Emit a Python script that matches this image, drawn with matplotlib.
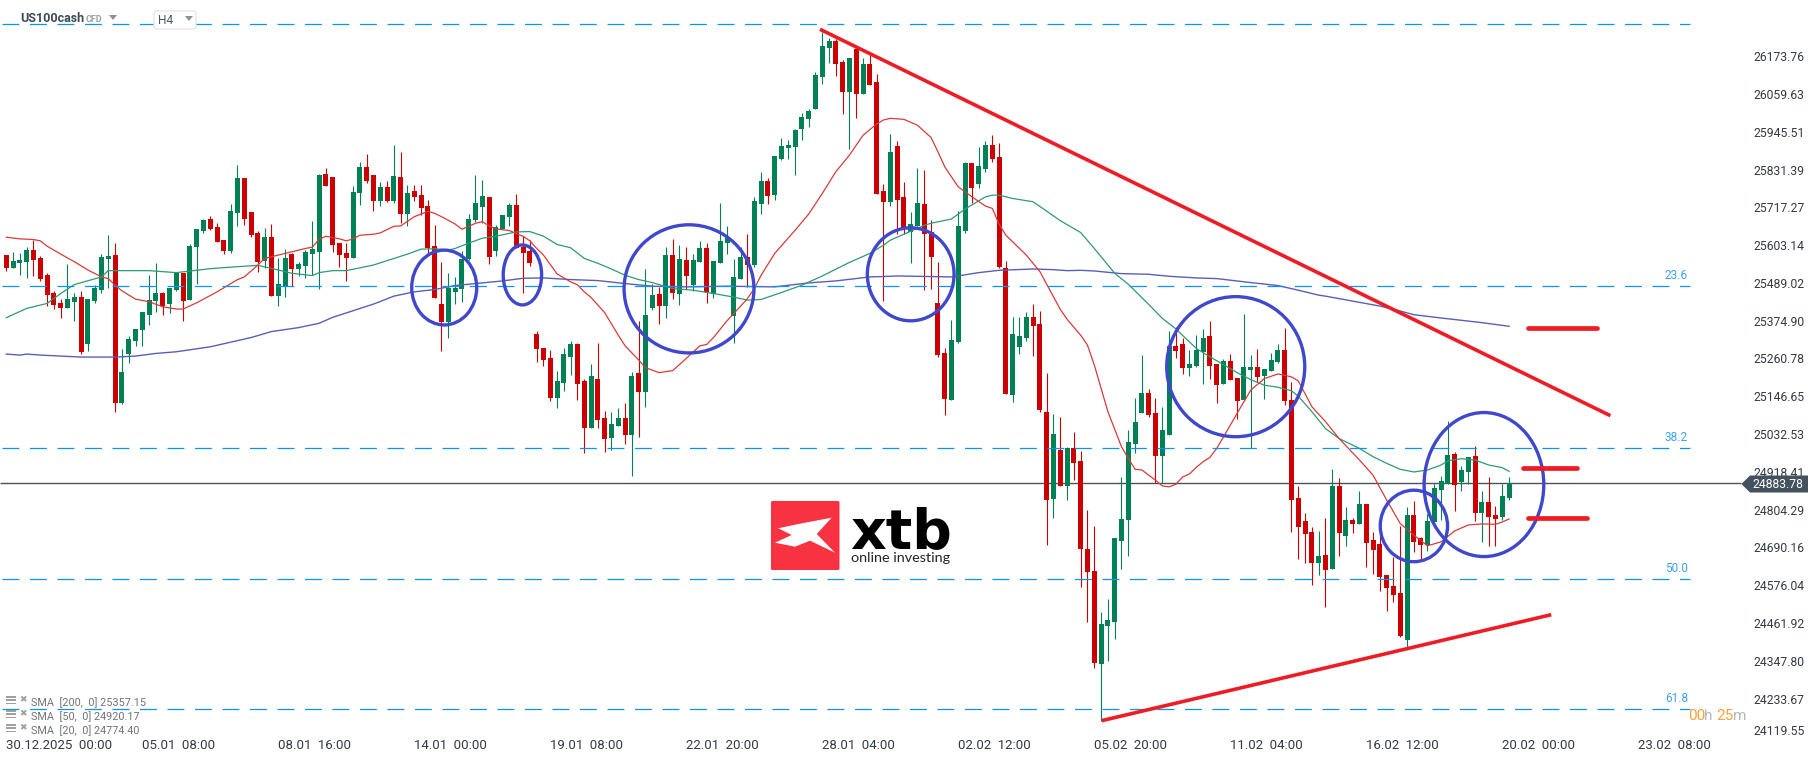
import numpy as np
import matplotlib
matplotlib.use('Agg')
import matplotlib.pyplot as plt
from matplotlib.patches import Ellipse, Polygon, Rectangle, FancyBboxPatch

opens = [25573,25535,25549,25553,25588,25564,25512,25458,25428,25413,
         25431,25446,25305,25434,25467,25561,25573,25126,25274,25313,
         25346,25392,25434,25458,25425,25467,25519,25437,25597,25645,
         25682,25657,25618,25585,25700,25805,25703,25639,25555,25627,
         25449,25476,25576,25531,25540,25576,25582,25817,25808,25609,
         25579,25564,25760,25839,25814,25736,25778,25736,25808,25697,
         25766,25754,25721,25600,25425,25371,25461,25470,25561,25679,
         25718,25748,25585,25651,25688,25724,25597,25585,25334,25292,
         25262,25141,25186,25265,25304,25192,25050,25198,25081,25020,
         25057,25081,25029,25217,25159,25413,25455,25419,25573,25455,
         25558,25482,25552,25594,25455,25549,25609,25389,25500,25567,
         25543,25727,25796,25754,25863,25896,25899,25953,25984,26014,
         26110,26198,26219,26156,26065,26195,26059,26150,26095,25766,
         25733,25902,25748,25642,25660,25727,25642,25428,25277,25135,
         25310,25645,25851,25787,25833,25905,25869,25534,25150,25295,
         25322,25386,25365,25099,24836,24984,24875,24990,24951,24685,
         24619,24338,24452,24465,24709,24773,25002,25096,25156,25096,
         24966,25029,25298,25304,25232,25238,25280,25328,25244,25183,
         25253,25201,25135,25226,25235,25207,25223,25250,25286,25135,
         24839,24770,24736,24643,24667,24625,24875,24724,24773,24760,
         24821,24712,24700,24606,24573,24552,24410,24788,24718,24697,
         24767,24863,24881,24972,24887,24918,24966,24794,24827,24788,24782,24839]
highs = [25573,25581,25580,25598,25620,25569,25518,25464,25440,25545,
         25458,25464,25440,25482,25576,25633,25611,25289,25328,25349,
         25401,25512,25549,25461,25473,25519,25519,25606,25651,25682,
         25691,25669,25618,25727,25845,25805,25703,25645,25654,25666,
         25564,25591,25579,25552,25588,25676,25817,25836,25808,25609,
         25609,25781,25854,25878,25814,25793,25796,25905,25884,25784,
         25784,25784,25739,25663,25552,25519,25506,25585,25697,25814,
         25799,25748,25663,25694,25730,25757,25630,25618,25343,25292,
         25286,25223,25292,25313,25307,25198,25244,25307,25102,25099,
         25111,25126,25220,25374,25531,25485,25476,25597,25621,25603,
         25597,25576,25615,25609,25555,25730,25660,25561,25597,25636,
         25748,25824,25805,25872,25926,25920,25953,26002,26014,26126,
         26246,26228,26225,26162,26168,26201,26168,26177,26120,25787,
         25938,25917,25793,25703,25836,25830,25679,25552,25292,25377,
         25706,25854,25851,25899,25917,25935,25911,25555,25386,25386,
         25401,25425,25404,25217,25093,25084,24993,25038,24981,24803,
         24754,24495,24534,24718,24902,25044,25141,25271,25168,25141,
         25114,25343,25355,25322,25286,25331,25349,25374,25244,25259,
         25274,25201,25395,25271,25289,25229,25277,25304,25352,25189,
         24875,24794,24751,24739,24779,24927,24899,24812,24779,24860,
         24821,24736,24727,24606,24661,24754,24812,24830,24721,24791,
         24881,24905,25072,24978,24936,24963,24996,24860,24902,24815,24881,24902]
lows = [25526,25535,25512,25504,25509,25494,25420,25411,25384,25413,
        25375,25275,25283,25429,25460,25473,25099,25123,25247,25298,
        25298,25362,25401,25392,25398,25464,25374,25437,25485,25639,
        25648,25612,25576,25579,25660,25663,25627,25522,25534,25449,
        25419,25446,25479,25509,25503,25512,25470,25781,25582,25537,
        25494,25564,25724,25790,25706,25721,25733,25730,25669,25660,
        25736,25694,25573,25443,25283,25322,25425,25431,25558,25672,
        25669,25546,25570,25651,25660,25594,25458,25540,25250,25238,
        25132,25111,25162,25210,25135,24975,25050,25050,24978,24984,
        25057,25002,24905,25023,25114,25407,25365,25383,25440,25422,
        25470,25464,25552,25428,25443,25549,25576,25307,25500,25476,
        25537,25697,25727,25739,25860,25863,25814,25920,25959,26014,
        26091,26153,26113,25999,25893,25987,26059,26086,25757,25434,
        25721,25636,25636,25549,25660,25467,25470,25265,25090,25135,
        25307,25639,25730,25775,25824,25854,25534,25153,25129,25274,
        25313,25268,25099,24697,24779,24875,24833,24893,24570,24465,
        24326,24166,24347,24413,24625,24664,24975,25096,25084,24884,
        24884,25029,25262,25214,25207,25235,25183,25198,25126,25183,
        25195,25078,25135,24990,25189,25138,25223,25247,25120,24736,
        24655,24643,24576,24606,24510,24625,24664,24694,24733,24760,
        24631,24609,24558,24498,24525,24419,24389,24676,24655,24679,
        24760,24773,24881,24800,24860,24881,24770,24706,24694,24694,24773,24833]
closes = [25535,25555,25558,25588,25558,25500,25452,25423,25413,25440,
          25446,25280,25440,25473,25567,25570,25126,25220,25319,25349,
          25401,25437,25458,25419,25473,25519,25434,25600,25651,25679,
          25651,25612,25585,25706,25805,25682,25633,25552,25627,25449,
          25485,25564,25531,25546,25582,25591,25814,25781,25603,25573,
          25564,25763,25839,25796,25736,25778,25736,25811,25697,25760,
          25748,25715,25594,25443,25371,25473,25473,25561,25682,25730,
          25751,25567,25657,25694,25724,25594,25579,25549,25289,25256,
          25141,25192,25274,25304,25183,25050,25207,25075,25017,25063,
          25081,25029,25207,25159,25392,25452,25419,25573,25458,25561,
          25509,25558,25594,25461,25555,25615,25624,25506,25567,25543,
          25736,25796,25751,25872,25902,25905,25950,25990,26008,26117,
          26204,26219,26150,26065,26168,26059,26150,26086,25757,25733,
          25884,25739,25651,25666,25730,25636,25567,25271,25138,25316,
          25660,25851,25775,25842,25905,25863,25537,25153,25334,25328,
          25386,25358,25105,24833,25032,24875,24990,24945,24685,24616,
          24341,24459,24471,24718,24776,25008,25069,25156,25090,24966,
          25044,25298,25283,25232,25244,25286,25322,25238,25180,25253,
          25195,25132,25235,25235,25204,25229,25256,25286,25132,24833,
          24751,24730,24643,24664,24622,24875,24733,24773,24760,24821,
          24703,24682,24600,24567,24546,24422,24788,24706,24697,24770,
          24869,24890,24969,24878,24924,24963,24794,24827,24782,24776,24845,24884]

sma20_idx = [0,2,4,5,6,8,10,12,14,15,16,17,19,21,23,25,26,28,31,34,35,37,38,41,44,45,46,47,49,50,51,52,54,55,57,58,60,62,63,64,65,
             66,67,68,69,70,71,72,74,75,76,77,78,79,81,83,84,85,86,88,90,91,93,94,96,98,100,102,103,104,106,108,109,110,111,113,116,118,120,122,124,126,128,
             129,130,132,134,136,137,138,139,140,142,144,145,146,147,148,150,152,154,155,156,158,159,160,162,164,165,166,167,169,170,171,172,173,174,175,176,177,178,179,181,183,185,187,188,189,190,192,194,
             196,199,201,203,205,207,209,211,213,215,217,219,220,221]
sma20_val = [25627,25622,25620,25616,25600,25576,25553,25528,25507,25502,25482,25465,25440,25432,25417,25410,25410,25429,25462,25499,25507,25543,25563,25578,25593,25597,25620,25630,25622,25616,25622,25633,25636,25640,25660,25661,25689,25705,25699,25689,25678,
             25667,25651,25660,25669,25674,25661,25652,25647,25638,25630,25616,25593,25573,25516,25492,25483,25462,25445,25399,25331,25299,25256,25233,25218,25224,25261,25299,25303,25324,25375,25419,25442,25472,25512,25578,25648,25697,25759,25825,25875,25935,25969,
             25981,25986,25983,25965,25928,25885,25840,25809,25779,25749,25721,25714,25666,25633,25613,25573,25523,25447,25409,25379,25331,25301,25241,25100,24994,24959,24926,24924,24893,24876,24873,24881,24903,24912,24932,24949,24962,24989,25024,25095,25165,25200,25214,25210,25205,25193,25115,25070,
             25019,24954,24908,24833,24762,24727,24695,24707,24740,24758,24761,24760,24767,24776]

sma50_idx = [0,3,6,8,10,14,15,21,25,30,34,37,40,42,45,46,48,50,54,59,61,63,65,66,68,70,72,75,77,79,81,83,85,87,89,91,93,95,98,101,104,107,109,111,114,117,120,124,127,129,
             130,133,135,136,139,141,144,145,146,148,151,155,158,160,163,165,168,170,172,175,177,181,183,185,187,189,190,192,194,196,199,201,203,205,207,209,211,212,214,216,218,220,221]
sma50_val = [25384,25412,25427,25457,25484,25507,25526,25526,25520,25532,25538,25542,25528,25518,25511,25520,25526,25526,25543,25576,25591,25592,25588,25593,25609,25624,25630,25643,25644,25630,25605,25595,25563,25548,25531,25512,25499,25490,25472,25467,25457,25446,25437,25439,25460,25482,25510,25551,25578,25603,
             25618,25645,25663,25669,25682,25712,25749,25754,25754,25744,25734,25677,25641,25593,25518,25485,25424,25382,25350,25291,25266,25218,25197,25180,25174,25163,25147,25100,25049,25019,24989,24964,24944,24926,24918,24924,24939,24952,24958,24954,24939,24931,24920]

sma200_idx = [0,2,3,5,8,11,16,19,22,25,30,33,36,39,43,46,48,51,54,57,60,63,65,66,69,73,76,79,83,87,91,95,100,106,113,118,122,127,130,131,139,143,146,151,154,156,158,160,164,168,171,175,178,183,187,190,193,194,198,202,205,207,211,217,221]
sma200_val = [25274,25271,25274,25271,25268,25265,25265,25268,25276,25281,25296,25310,25324,25342,25354,25367,25385,25405,25425,25449,25462,25469,25477,25481,25487,25495,25503,25504,25499,25496,25487,25479,25477,25479,25477,25489,25495,25507,25509,25510,25507,25520,25527,25531,25529,25526,25527,25525,25517,25515,25509,25504,25502,25490,25481,25467,25452,25449,25434,25419,25404,25393,25383,25369,25358]

fib_levels = [26270, 25479, 24989.5, 24594, 24201]
fib_names = ['0.0', '23.6', '38.2', '50.0', '61.8']

y_ticks = [26173.76,26059.63,25945.51,25831.39,25717.27,25603.14,25489.02,25374.90,25260.78,25146.65,25032.53,24918.41,24804.29,24690.16,24576.04,24461.92,24347.80,24233.67]
bottom_tick = '24119.55'
x_tick_idx = [0,20,40,60,80,100,120,140,160,180,200,220,240]
x_tick_labels = ['30.12.2025  00:00','05.01  08:00','08.01  16:00','14.01  00:00','19.01  08:00','22.01  20:00','28.01  04:00','02.02  12:00','05.02  20:00','11.02  04:00','16.02  12:00','20.02  00:00','23.02  08:00']
last_price = 24883.78

sma_rows = ['SMA  [200,  0] 25357.15', 'SMA  [50,  0] 24920.17', 'SMA  [20,  0] 24774.40']

# hand drawn lines on the chart: (idx, price)
trend_lines = [((119.66, 26255), (235.9, 25088)), ((161.1, 24167), (227.2, 24487))]
stubs = [((223.8, 25352), (233.9, 25352)), ((223.1, 24929), (231.0, 24929)), ((223.8, 24778), (232.5, 24778))]
# cx, cy, w, h
rings = [(64.4,25475,9.56,226),(75.9,25513,5.65,181),(100.4,25471,19.1,387),(133,25515,12.75,281),
         (180.8,25236,20.3,423),(207,24755,9.9,216),(217.3,24880,17.6,435)]

GREEN = '#008055'
RED = '#cc0000'
BLUE = '#0a94f5'
RING = '#3f48cc'
TREND = '#ee1c25'
DARK = '#44525f'

plt.rcParams['font.family'] = ['Roboto', 'DejaVu Sans']

W, H = 1815, 761
fig = plt.figure(figsize=(W / 100, H / 100), dpi=100, facecolor='white')
ax = fig.add_axes([0, 0, 1, 1])
ax.set_xlim(-6.3 / 6.8, (W - 6.3) / 6.8)
ax.set_ylim(24045.13, 26343.35)
for s in ax.spines.values():
    s.set_visible(False)

ohlc = np.array([opens, highs, lows, closes], dtype=float)
x = np.arange(ohlc.shape[1])
up = ohlc[3] >= ohlc[0]
colors = [GREEN if u else RED for u in up]

ax.hlines(last_price, -1, (1741 - 6.3) / 6.8, color='#4a5258', lw=1.0, zorder=1)
ax.vlines(x, ohlc[2], ohlc[1], color=colors, lw=0.8, zorder=2)
ax.bar(x, np.abs(ohlc[3] - ohlc[0]), bottom=np.minimum(ohlc[0], ohlc[3]), width=0.72, color=colors, lw=0, zorder=3)

ax.plot(sma200_idx, sma200_val, color='#5a5fb5', lw=1.0, zorder=4)
ax.plot(sma50_idx, sma50_val, color='#2e9a72', lw=0.9, zorder=4)
ax.plot(sma20_idx, sma20_val, color='#d93a3a', lw=0.9, zorder=4)

x_end = (1690 - 6.3) / 6.8
for lev, name in zip(fib_levels, fib_names):
    ax.hlines(lev, -0.6, x_end, color=BLUE, lw=0.9, linestyles=[(0, (13.5, 8.5))], zorder=5)
    ax.text(243.9, lev + 12, name, color='#3fa0f0', fontsize=8.5, va='bottom', ha='left', zorder=5)
# the 0.0 label is cut off by the top strip of the terminal
ax.add_patch(Rectangle((243, 26292), 6, 60, color='white', lw=0, zorder=6))

for cx, cy, w, h in rings:
    ax.add_patch(Ellipse((cx, cy), w, h, fill=False, ec=RING, lw=2.4, zorder=7))
for a, b in trend_lines:
    ax.plot([a[0], b[0]], [a[1], b[1]], color=TREND, lw=2.6, zorder=8, solid_capstyle='butt')
for a, b in stubs:
    ax.plot([a[0], b[0]], [a[1], b[1]], color=TREND, lw=3.4, zorder=8, solid_capstyle='round')

ax.yaxis.tick_right()
ax.set_yticks(y_ticks)
ax.set_yticklabels(['%.2f' % v for v in y_ticks])
ax.tick_params(axis='y', length=0, pad=-44.2, labelsize=8.7, labelcolor='#333b42')
ax.set_xticks(x_tick_idx)
ax.set_xticklabels(x_tick_labels, ha='left')
ax.tick_params(axis='x', length=0, pad=-16, labelsize=9.5, labelcolor='#333b42')
ax.text(1753.6 / 1815, (761 - 731.5) / 761, bottom_tick, transform=ax.transAxes, fontsize=8.7, color='#333b42', va='center')

# overlay in screen pixels for the terminal furniture
ov = fig.add_axes([0, 0, 1, 1], facecolor='none')
ov.set_xlim(0, W)
ov.set_ylim(H, 0)
ov.axis('off')

ov.add_patch(Polygon([(1741.4, 484), (1750, 475.5), (1808, 475.5), (1808, 492.5), (1750, 492.5)], color=DARK, lw=0, zorder=3))
ov.text(1752.5, 484.5, '%.2f' % last_price, color='white', fontsize=8.7, va='center', zorder=4)

ov.text(20, 18.5, 'US100cash', color='#3d4b57', fontsize=9, fontweight='bold', va='center')
ov.text(86, 19.5, 'CFD', color='#9aa0a5', fontsize=6.5, fontweight='bold', va='center')
ov.add_patch(Polygon([(109, 15), (117, 15), (113, 20)], color='#8d9195', lw=0))
ov.add_patch(FancyBboxPatch((155, 12), 40, 16, boxstyle='round,pad=1,rounding_size=2', fc='white', ec='#e2e2e2', lw=0.8, zorder=0.5))
ov.text(158, 20, 'H4', color='#4a5560', fontsize=8.6, va='center')
ov.add_patch(Polygon([(185, 16), (193, 16), (189, 21)], color='#8d9195', lw=0))

for row, (txt, yy) in enumerate(zip(sma_rows, [701.7, 715.7, 729.7])):
    ov.add_patch(Rectangle((6, yy - 6), 10, 2.2, color='#a0a0a0', lw=0))
    ov.add_patch(Rectangle((6, yy - 2.5), 10, 2.2, color='#a0a0a0', lw=0))
    ov.add_patch(Rectangle((6, yy + 1), 10, 1.6, color='#a0a0a0', lw=0))
    ov.text(23, yy - 1.5, '\u2716', color='#a0a0a0', fontsize=6.5, ha='center', va='center', family='DejaVu Sans')
    ov.text(31, yy + 0.5, txt, color='#6f7478', fontsize=7.8, va='center')

ov.text(1687.7, 716.5, '00', color='#f9a13a', fontsize=11, va='center')
ov.text(1704.3, 716.5, 'h', color='#b5b8bb', fontsize=11, va='center')
ov.text(1716.6, 716.5, '25', color='#f9a13a', fontsize=11, va='center')
ov.text(1733, 716.5, 'm', color='#b5b8bb', fontsize=11, va='center')

# xtb logo
ov.add_patch(FancyBboxPatch((772, 502), 66.5, 67, boxstyle='round,pad=1,rounding_size=1.5', fc='#f93242', ec='none'))
ov.add_patch(Polygon([(778.3, 528.3), (798.3, 524), (831.7, 517.7), (816.7, 534), (835, 552.7), (810, 540.7), (795, 546.7), (775, 542.7), (791.7, 535)], color='white', lw=0))
ov.text(850, 548.5, 'xtb', color='black', fontsize=40, fontweight='bold', family='DejaVu Sans', va='baseline')
ov.text(851, 562, 'online investing', color='#222222', fontsize=10.4, family=['Lato', 'DejaVu Sans'], va='baseline')

fig.savefig('out.png', dpi=100)
